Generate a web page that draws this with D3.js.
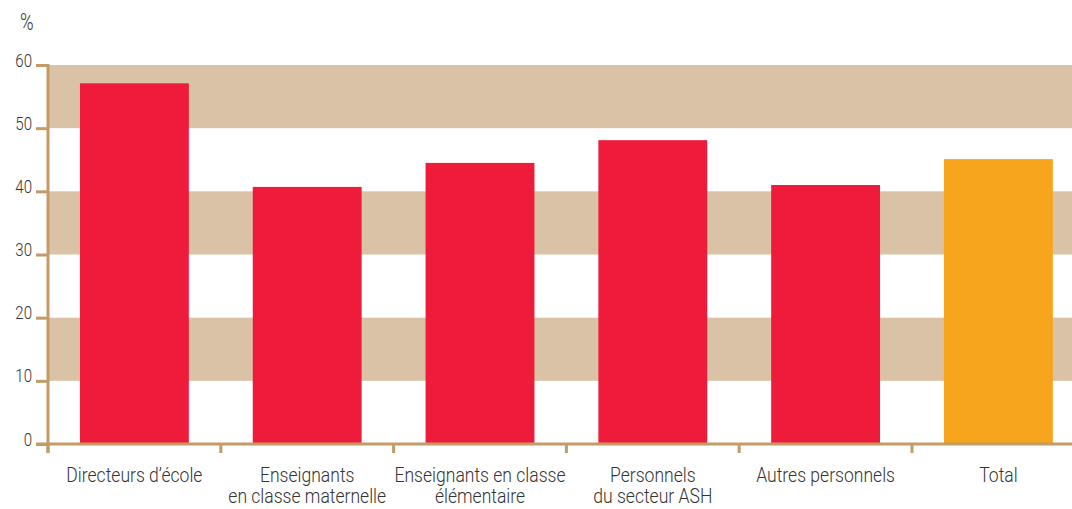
<!DOCTYPE html>
<html>
<head>
<meta charset="utf-8">
<script src="https://cdn.jsdelivr.net/npm/d3@7"></script>
<style>
  html, body { margin: 0; padding: 0; background: #fff; }
  svg text { font-family: Roboto, "Liberation Sans", sans-serif; fill: #333; font-weight: 300; }
</style>
</head>
<body>
<svg id="chart" width="1072" height="509"></svg>
<script>
const categories = [
  ["Directeurs d\u2019école"],
  ["Enseignants", "en classe maternelle"],
  ["Enseignants en classe", "élémentaire"],
  ["Personnels", "du secteur ASH"],
  ["Autres personnels"],
  ["Total"]
];
const values = [57.1, 40.7, 44.5, 48.1, 41.0, 45.1];
const barColors = ["#ee1b3b", "#ee1b3b", "#ee1b3b", "#ee1b3b", "#ee1b3b", "#f7a51d"];
const yTicks = [0, 10, 20, 30, 40, 50, 60];
const shadedBands = [[50, 60], [30, 40], [10, 20]];
const yUnit = "%";

const svg = d3.select("#chart");
const axisColor = "#c49b67";
const bandColor = "#d9c2a5";

const keys = categories.map(c => c.join(" "));
const x = d3.scaleBand().domain(keys).range([48, 48 + 6 * 172.8]).paddingInner(0.37).paddingOuter(0.185);
const xb = d3.scaleBand().domain(keys).range([48, 48 + 6 * 172.8]).padding(0);
const y = d3.scaleLinear().domain([0, 60]).range([444, 65]);

// shaded bands
svg.append("g").selectAll("rect").data(shadedBands).join("rect")
  .attr("x", 48).attr("width", 1072 - 48)
  .attr("y", d => y(d[1])).attr("height", d => y(d[0]) - y(d[1]))
  .attr("fill", bandColor);

// bars
svg.append("g").selectAll("rect").data(values).join("rect")
  .attr("x", (d, i) => x(keys[i]))
  .attr("width", x.bandwidth())
  .attr("y", d => y(d))
  .attr("height", d => y(0) - y(d))
  .attr("fill", (d, i) => barColors[i]);

// y axis ticks (via d3 axis)
const yAxis = d3.axisLeft(y).tickValues(yTicks).tickSize(12).tickFormat("");
const gy = svg.append("g").attr("transform", "translate(48,0)").call(yAxis);
gy.select(".domain").remove();
gy.selectAll(".tick line").attr("stroke", axisColor).attr("stroke-width", 3);
// y tick labels (condensed look)
svg.append("g").selectAll("g").data(yTicks).join("g")
  .attr("transform", d => `translate(32,${y(d) + 1.5}) scale(0.86,1)`)
  .append("text").attr("text-anchor", "end").attr("font-size", 17.5).text(d => d);

svg.append("line").attr("x1", 48).attr("x2", 48).attr("y1", y(60) - 1).attr("y2", 453)
  .attr("stroke", axisColor).attr("stroke-width", 3);

// x axis line
svg.append("line").attr("x1", 36).attr("x2", 1072).attr("y1", y(0)).attr("y2", y(0))
  .attr("stroke", axisColor).attr("stroke-width", 3);
// x ticks at band boundaries
const bounds = keys.map(k => xb(k)).concat([xb(keys[keys.length - 1]) + xb.bandwidth()]);
svg.append("g").selectAll("line").data(bounds).join("line")
  .attr("x1", d => d).attr("x2", d => d).attr("y1", y(0)).attr("y2", 453)
  .attr("stroke", axisColor).attr("stroke-width", 3);

// x labels
const lbl = svg.append("g").selectAll("g").data(categories).join("g")
  .attr("transform", (d, i) => `translate(${xb(keys[i]) + xb.bandwidth() / 2},482) scale(0.9,1)`)
  .append("text").attr("text-anchor", "middle").attr("font-size", 19.5);
lbl.selectAll("tspan").data(d => d).join("tspan")
  .attr("x", 0)
  .attr("dy", (d, i) => i === 0 ? 0 : 21)
  .text(d => d);

// unit label
svg.append("g").attr("transform", "translate(20,30) scale(0.8,1)")
  .append("text").attr("font-size", 23).text(yUnit);
</script>
</body>
</html>
